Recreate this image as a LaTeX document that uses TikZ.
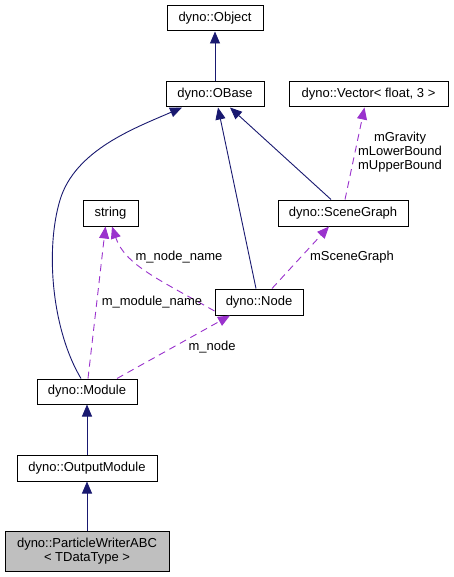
\documentclass[tikz,border=0pt]{standalone}
\usepackage{fontspec}
\setmainfont{Liberation Sans}
\usetikzlibrary{arrows.meta}
\definecolor{inhcol}{HTML}{191970}
\definecolor{usecol}{HTML}{9A32CD}
\tikzset{
  cls/.style={draw=black, line width=1pt, inner sep=0pt, minimum height=25pt, font=\fontsize{13}{14}\selectfont, align=center},
  inh/.style={draw=inhcol, line width=0.9pt, -{Triangle[length=12pt,width=10pt]}},
  use/.style={draw=usecol, line width=0.9pt, dash pattern=on 7pt off 5pt, -{Triangle[length=12pt,width=10pt]}},
  lbl/.style={font=\fontsize{13}{14}\selectfont, align=center, inner sep=0pt}
}
\begin{document}
\begin{tikzpicture}[x=1pt,y=-1pt]
        \fill[white] (0,0) rectangle (453,577);
        \useasboundingbox (0,0) rectangle (453,577);
        % classes
        \node[cls, minimum width=96pt] (object) at (215,18.5) {dyno::Object};
        \node[cls, minimum width=98pt] (obase) at (215,94.5) {dyno::OBase};
        \node[cls, minimum width=159pt] (vector) at (368.5,94.5) {dyno::Vector< float, 3 >};
        \node[cls, minimum width=55pt, minimum height=26pt] (string) at (110.5,213) {string};
        \node[cls, minimum width=130pt, minimum height=26pt] (scenegraph) at (343,213) {dyno::SceneGraph};
        \node[cls, minimum width=88pt, minimum height=26pt] (dnode) at (259,302) {dyno::Node};
        \node[cls, minimum width=100pt] (module) at (87,391.5) {dyno::Module};
        \node[cls, minimum width=140pt, minimum height=26pt] (outmodule) at (87,468) {dyno::OutputModule};
        \node[cls, fill={rgb,255:red,191;green,191;blue,191}, minimum width=164pt, minimum height=40pt] (writer) at (87,551) {dyno::ParticleWriterABC\\< TDataType >};
        % inheritance
        \draw[inh] (obase) -- (object);
        \draw[inh] ([xshift=-6pt]module.north) .. controls (52,330) and (45,250) .. (60,200)
            .. controls (75,150) and (135,128) .. ([xshift=-33pt]obase.south);
        \draw[inh] ([xshift=-3pt]dnode.north) -- ([xshift=3pt]obase.south);
        \draw[inh] ([xshift=-12pt]scenegraph.north) -- ([xshift=15pt]obase.south);
        \draw[inh] (outmodule) -- (module);
        \draw[inh] (writer) -- (outmodule);
        % usage
        \draw[use] ([xshift=2pt]scenegraph.north) -- ([xshift=-4pt]vector.south);
        \node[lbl] (vectorlbl) at (400,152) {mGravity\\mLowerBound\\mUpperBound};
        \draw[use] ([xshift=13pt]dnode.north) -- ([xshift=-14pt]scenegraph.south);
        \node[lbl] (sglbl) at (352,257) {mSceneGraph};
        \draw[use] ([yshift=-9pt]dnode.west) .. controls (160,280) and (125,265) .. ([xshift=1.5pt]string.south);
        \node[lbl] (nodenamelbl) at (179,257) {m\_node\_name};
        \draw[use] ([xshift=1pt]module.north) -- ([xshift=-5pt]string.south);
        \node[lbl] (modnamelbl) at (152,302) {m\_module\_name};
        \draw[use] ([xshift=30pt]module.north) -- ([xshift=-29pt]dnode.south);
        \node[lbl] (nodelbl) at (212,347) {m\_node};
    \end{tikzpicture}
\end{document}
